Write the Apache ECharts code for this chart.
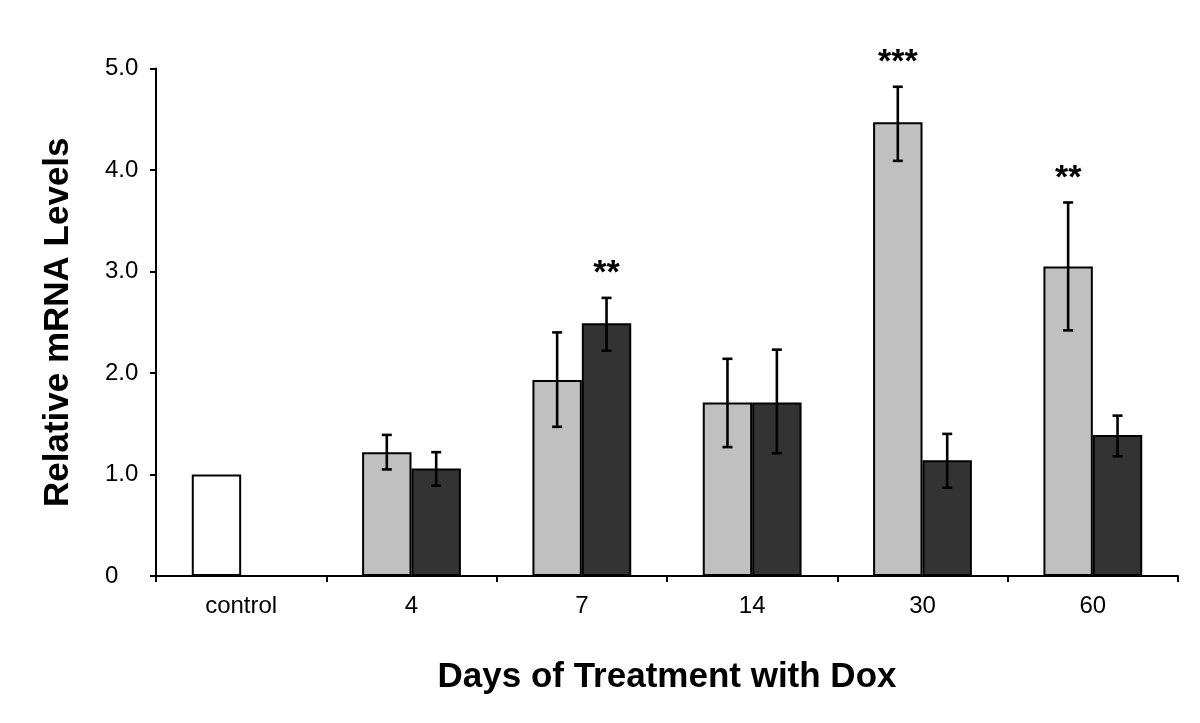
<!DOCTYPE html>
<html>
<head>
<meta charset="utf-8">
<script src="https://cdn.jsdelivr.net/npm/echarts@6/dist/echarts.min.js"></script>
<style>html,body{margin:0;padding:0;background:#fff}#c{width:1200px;height:723px}</style>
</head>
<body>
<div id="c"></div>
<script>
var categories = ['control', '4', '7', '14', '30', '60'];
var grayValues = [1.0, 1.22, 1.93, 1.71, 4.47, 3.05];
var grayLow    = [null, 1.05, 1.47, 1.27, 4.09, 2.42];
var grayHigh   = [null, 1.39, 2.40, 2.14, 4.82, 3.68];
var darkValues = [null, 1.06, 2.49, 1.71, 1.14, 1.39];
var darkLow    = [null, 0.89, 2.22, 1.21, 0.87, 1.18];
var darkHigh   = [null, 1.22, 2.74, 2.23, 1.40, 1.58];
var graySig = ['', '', '', '', '***', '**'];
var darkSig = ['', '', '**', '', '', ''];
var yTicks = ['0', '1.0', '2.0', '3.0', '4.0', '5.0'];

var CAT_GAP = 0.42;

function errSeries(low, high, sig, side) {
  var data = categories.map(function (c, i) { return [i, low[i], high[i], sig[i]]; })
    .filter(function (d) { return d[1] != null; });
  return {
    type: 'custom',
    z: 5,
    data: data,
    encode: { x: 0, y: [1, 2] },
    renderItem: function (params, api) {
      var idx = api.value(0);
      var lo = api.coord([idx, api.value(1)]);
      var hi = api.coord([idx, api.value(2)]);
      var band = api.size([1, 0])[0];
      var bw = band * (1 - CAT_GAP) / 2;
      var x = lo[0] + side * bw / 2;
      var cap = 5;
      var lw = 2.6;
      var children = [
        { type: 'line', shape: { x1: x, y1: lo[1], x2: x, y2: hi[1] }, style: { stroke: '#000', lineWidth: lw } },
        { type: 'line', shape: { x1: x - cap, y1: lo[1], x2: x + cap, y2: lo[1] }, style: { stroke: '#000', lineWidth: lw } },
        { type: 'line', shape: { x1: x - cap, y1: hi[1], x2: x + cap, y2: hi[1] }, style: { stroke: '#000', lineWidth: lw } }
      ];
      var s = data[params.dataIndex][3];
      if (s) {
        children.push({ type: 'text', x: x, y: hi[1] - 24, style: { text: s, fill: '#000', font: 'bold 34px "Liberation Sans", Arial, sans-serif', align: 'center', verticalAlign: 'middle' } });
      }
      return { type: 'group', children: children };
    }
  };
}

var chart = echarts.init(document.getElementById('c'));
chart.setOption({
  animation: false,
  backgroundColor: '#fff',
  grid: { left: 156, right: 22, top: 68.5, bottom: 147 },
  xAxis: {
    type: 'category',
    data: categories,
    axisLine: { lineStyle: { color: '#000', width: 2 } },
    axisTick: { show: true, length: 6, lineStyle: { color: '#000', width: 2 } },
    axisLabel: { color: '#000', fontSize: 24, fontFamily: '"Liberation Sans", Arial, sans-serif', margin: 18 },
    name: 'Days of Treatment with Dox',
    nameLocation: 'middle',
    nameGap: 84,
    nameTextStyle: { color: '#000', fontSize: 35, fontWeight: 'bold', fontFamily: '"Liberation Sans", Arial, sans-serif' }
  },
  yAxis: {
    type: 'value',
    min: 0, max: 5, interval: 1,
    splitLine: { show: false },
    axisLine: { show: true, lineStyle: { color: '#000', width: 2 } },
    axisTick: { show: true, length: 6, lineStyle: { color: '#000', width: 2 } },
    axisLabel: { color: '#000', fontSize: 24, fontFamily: '"Liberation Sans", Arial, sans-serif', margin: 51, align: 'left',
      formatter: function (v) { return yTicks[Math.round(v)]; } },
    name: 'Relative mRNA Levels',
    nameLocation: 'middle',
    nameGap: 80,
    nameTextStyle: { color: '#000', fontSize: 35, fontWeight: 'bold', fontFamily: '"Liberation Sans", Arial, sans-serif' }
  },
  series: [
    {
      type: 'bar',
      barGap: '0%',
      barCategoryGap: (CAT_GAP * 100) + '%',
      data: grayValues.map(function (v, i) {
        return i === 0 ? { value: v, itemStyle: { color: '#ffffff' } } : v;
      }),
      itemStyle: { color: '#c0c0c0', borderColor: '#000', borderWidth: 2 }
    },
    {
      type: 'bar',
      data: darkValues.map(function (v) { return v == null ? '-' : v; }),
      itemStyle: { color: '#333333', borderColor: '#000', borderWidth: 2 }
    },
    errSeries(grayLow, grayHigh, graySig, -1),
    errSeries(darkLow, darkHigh, darkSig, 1)
  ]
});
</script>
</body>
</html>
